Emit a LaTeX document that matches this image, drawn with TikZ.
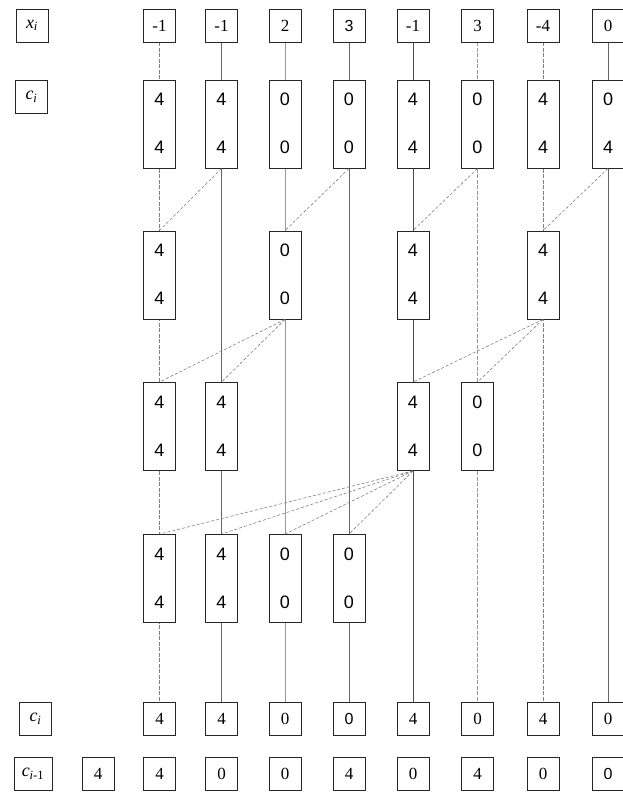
\documentclass[tikz,border=0pt]{standalone}
\usepackage{fontspec}
\setmainfont{Liberation Serif}
\newfontfamily\sansf{Liberation Sans}
\usetikzlibrary{backgrounds,calc}
\tikzset{
  box/.style={draw=black!85, line width=0.9pt, fill=white, minimum width=32pt, minimum height=33pt, inner sep=0pt, font=\fontsize{17}{17}\selectfont},
  sbox/.style={box, font=\sansf\fontsize{16}{16}\selectfont},
  tall/.style={draw=black!85, line width=0.9pt, fill=white, minimum width=32pt, minimum height=88pt, inner sep=0pt},
  dig/.style={inner sep=0pt, font=\sansf\fontsize{18}{18}\selectfont},
  lbl/.style={box, font=\fontsize{18}{18}\selectfont\itshape},
  vline/.style={draw=black!60, line width=0.6pt},
  vlight/.style={draw=black!40, line width=0.5pt},
  vdash/.style={draw=black!50, line width=0.6pt, dash pattern=on 4pt off 1.5pt},
  diag/.style={draw=black!50, line width=0.6pt, dash pattern=on 3pt off 2pt}
}
\newcommand\tbox[5]{%
  \node[tall] (#1) at (#2,#3) {};
  \node[dig] (#1t) at ($(#1.north)+(0,20)$) {#4};
  \node[dig] (#1b) at ($(#1.south)+(0,-21)$) {#5};}
\begin{document}
\begin{tikzpicture}[x=1pt,y=-1pt]
\useasboundingbox (0,0) rectangle (623,793);
% labels
\node[lbl] (lx) at (32,25.5) {x\textsubscript{i}};
\node[lbl] (lc) at (31.5,96.5) {c\textsubscript{i}};
\node[lbl] (lcb) at (35.5,718.5) {c\textsubscript{i}};
\node[lbl, minimum width=38pt] (lcp) at (33,773.5) {c\textsubscript{\textit{i}\upshape-1}};
% top row
\node[box] (x0) at (159.5,25.5) {-1};
\node[box] (x1) at (221.5,25.5) {-1};
\node[box] (x2) at (285,25.5) {2};
\node[sbox] (x3) at (349,25.5) {3};
\node[box] (x4) at (413,25.5) {-1};
\node[box] (x5) at (477.5,25.5) {3};
\node[box] (x6) at (543,25.5) {-4};
\node[box] (x7) at (608,25.5) {0};
% level 0
\tbox{a0}{159.5}{124}{4}{4}
\tbox{a1}{221.5}{124}{4}{4}
\tbox{a2}{285}{124}{0}{0}
\tbox{a3}{349}{124}{0}{0}
\tbox{a4}{413}{124}{4}{4}
\tbox{a5}{477.5}{124}{0}{0}
\tbox{a6}{543}{124}{4}{4}
\tbox{a7}{608}{124}{0}{4}
% level 1
\tbox{b0}{159.5}{275}{4}{4}
\tbox{b2}{285}{275}{0}{0}
\tbox{b4}{413}{275}{4}{4}
\tbox{b6}{543}{275}{4}{4}
% level 2
\tbox{d0}{159.5}{426.5}{4}{4}
\tbox{d1}{221.5}{426.5}{4}{4}
\tbox{d4}{413}{426.5}{4}{4}
\tbox{d5}{477.5}{426.5}{0}{0}
% level 3
\tbox{e0}{159.5}{578.5}{4}{4}
\tbox{e1}{221.5}{578.5}{4}{4}
\tbox{e2}{285}{578.5}{0}{0}
\tbox{e3}{349}{578.5}{0}{0}
% bottom c_i
\node[box] (c0) at (159.5,718.5) {4};
\node[box] (c1) at (221.5,718.5) {4};
\node[box] (c2) at (285,718.5) {0};
\node[sbox] (c3) at (349,718.5) {0};
\node[box] (c4) at (413,718.5) {4};
\node[box] (c5) at (477.5,718.5) {0};
\node[box] (c6) at (543,718.5) {4};
\node[box] (c7) at (608,718.5) {0};
% c_{i-1}
\node[box] (p) at (98,773.5) {4};
\node[box] (p0) at (159.5,773.5) {4};
\node[box] (p1) at (221.5,773.5) {0};
\node[box] (p2) at (285,773.5) {0};
\node[box] (p3) at (349,773.5) {4};
\node[box] (p4) at (413,773.5) {0};
\node[box] (p5) at (477.5,773.5) {4};
\node[box] (p6) at (543,773.5) {0};
\node[sbox] (p7) at (608,773.5) {0};
\begin{scope}[on background layer]
  \draw[vdash] (x0.south) -- (c0.north);
  \draw[vline] (x1.south) -- (c1.north);
  \draw[vlight] (x2.south) -- (c2.north);
  \draw[vline] (x3.south) -- (c3.north);
  \draw[vline, draw=black!70] (x4.south) -- (c4.north);
  \draw[vdash, draw=black!40] (x5.south) -- (c5.north);
  \draw[vdash] (x6.south) -- (c6.north);
  \draw[vline] (x7.south) -- (c7.north);
\end{scope}
% diagonals
\draw[diag] (a1.south) -- (b0.north);
\draw[diag] (a3.south) -- (b2.north);
\draw[diag] (a5.south) -- (b4.north);
\draw[diag] (a7.south) -- (b6.north);
\draw[diag] (b2.south) -- (d0.north);
\draw[diag] (b2.south) -- (d1.north);
\draw[diag] (b6.south) -- (d4.north);
\draw[diag] (b6.south) -- (d5.north);
\draw[diag] (d4.south) -- (e0.north);
\draw[diag] (d4.south) -- (e1.north);
\draw[diag] (d4.south) -- (e2.north);
\draw[diag] (d4.south) -- (e3.north);
\end{tikzpicture}
\end{document}
